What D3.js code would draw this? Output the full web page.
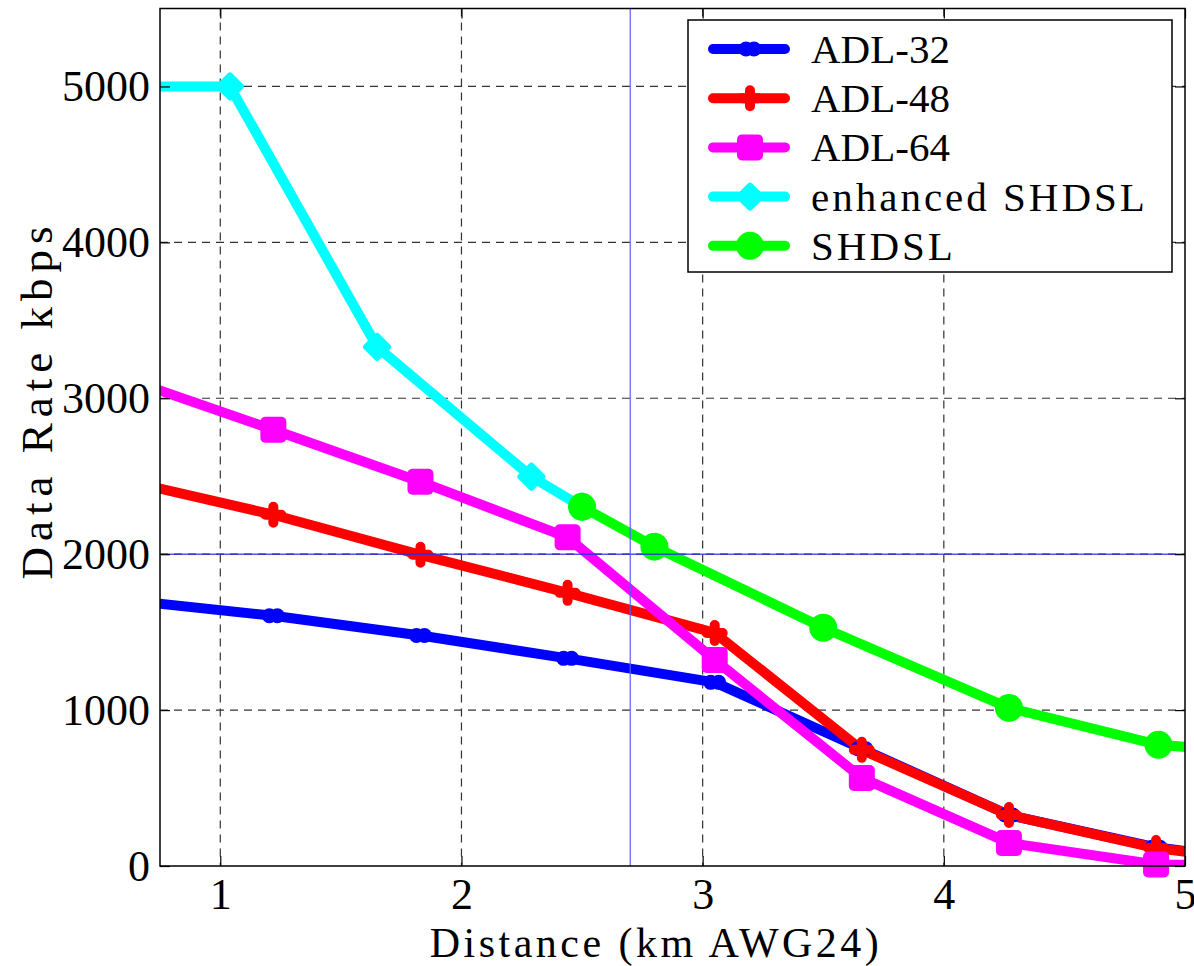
<!DOCTYPE html>
<html>
<head>
<meta charset="utf-8">
<script src="https://cdn.jsdelivr.net/npm/d3@7"></script>
<style>
  html, body { margin: 0; padding: 0; background: #fff; }
  svg { display: block; }
  text { font-family: "Liberation Serif", "Times New Roman", serif; fill: #000; }
</style>
</head>
<body>
<svg id="chart" width="1194" height="966"></svg>
<script>
// Loop distances in km (2 kft steps) and achievable rates in kbps
const distanceKm = [0.61, 1.22, 1.83, 2.44, 3.05, 3.66, 4.27, 4.88, 5.49];
const adl32 = [1705, 1605, 1478, 1332, 1178, 752, 327, 120, 0];
const adl48 = [2470, 2253, 1996, 1752, 1495, 745, 327, 115, 0];
const adl64 = [3125, 2798, 2465, 2108, 1322, 565, 148, 10, 0];

const eshdslKm = [0.43, 1.04, 1.65, 2.29, 2.50];
const eshdslRate = [5000, 5000, 3330, 2497, 2304];

const shdslKm = [2.50, 2.80, 3.50, 4.27, 4.89, 5.50];
const shdslRate = [2304, 2048, 1528, 1014, 777, 705];

const xTicks = [1, 2, 3, 4, 5];
const yTicks = [0, 1000, 2000, 3000, 4000, 5000];
const seriesNames = ["ADL-32", "ADL-48", "ADL-64", "enhanced SHDSL", "SHDSL"];

// Reference markers: 2 Mbps rate and 2.7 km reach
const refRate = 2000;
const refDistance = 2.7;

const series = [
  { name: seriesNames[0], xs: distanceKm, ys: adl32, color: "#0000ff", marker: "dot2" },
  { name: seriesNames[1], xs: distanceKm, ys: adl48, color: "#ff0000", marker: "plus" },
  { name: seriesNames[2], xs: distanceKm, ys: adl64, color: "#ff00ff", marker: "square" },
  { name: seriesNames[3], xs: eshdslKm, ys: eshdslRate, color: "#00ffff", marker: "diamond" },
  { name: seriesNames[4], xs: shdslKm, ys: shdslRate, color: "#00ff00", marker: "circle" }
];

const svg = d3.select("#chart");
const plotL = 160, plotR = 1185, plotT = 8.5, plotB = 866;

const x = d3.scaleLinear().domain([0.75, 5]).range([plotL, plotR]);
const y = d3.scaleLinear().domain([0, 5500]).range([plotB, plotT]);

svg.append("defs").append("clipPath").attr("id", "plotClip")
  .append("rect").attr("x", plotL).attr("y", plotT)
  .attr("width", plotR - plotL).attr("height", plotB - plotT);

// Dashed grid
const grid = svg.append("g");
grid.selectAll("line.gx").data(xTicks.filter(t => x(t) < plotR - 1)).join("line")
  .attr("x1", d => x(d)).attr("x2", d => x(d))
  .attr("y1", plotT).attr("y2", plotB)
  .attr("stroke", "#333").attr("stroke-width", 1.2)
  .attr("stroke-dasharray", "8,6");
grid.selectAll("line.gy").data(yTicks.filter(t => t > 0)).join("line")
  .attr("y1", d => y(d)).attr("y2", d => y(d))
  .attr("x1", plotL).attr("x2", plotR)
  .attr("stroke", "#333").attr("stroke-width", 1.2)
  .attr("stroke-dasharray", "8,6");

// Data lines
const plot = svg.append("g").attr("clip-path", "url(#plotClip)");
const line = d3.line().x(d => x(d[0])).y(d => y(d[1]));

function drawMarker(g, type, color) {
  if (type === "dot2") {
    g.append("circle").attr("cx", -4).attr("cy", 0).attr("r", 7.5).attr("fill", color);
    g.append("circle").attr("cx", 4).attr("cy", 0).attr("r", 7.5).attr("fill", color);
  } else if (type === "plus") {
    g.append("path").attr("d", "M0,-8L0,8M-8,0L8,0").attr("stroke", color)
      .attr("stroke-width", 10).attr("stroke-linecap", "round").attr("fill", "none");
  } else if (type === "square") {
    g.append("rect").attr("x", -13).attr("y", -13).attr("width", 26).attr("height", 26)
      .attr("rx", 5).attr("fill", color);
  } else if (type === "diamond") {
    g.append("path").attr("d", "M0,-11L11,0L0,11L-11,0Z").attr("fill", color)
      .attr("stroke", color).attr("stroke-width", 6).attr("stroke-linejoin", "round");
  } else if (type === "circle") {
    g.append("circle").attr("r", 14).attr("fill", color);
  }
}

series.forEach(s => {
  const pts = s.xs.map((v, i) => [v, s.ys[i]]);
  plot.append("path").datum(pts)
    .attr("d", line)
    .attr("fill", "none")
    .attr("stroke", s.color)
    .attr("stroke-width", 10)
    .attr("stroke-linejoin", "round")
    .attr("stroke-linecap", "round");
  const mg = svg.append("g");
  pts.filter(p => p[0] >= 0.75 && p[0] <= 5).forEach(p => {
    const g = mg.append("g").attr("transform", `translate(${x(p[0])},${y(p[1])})`);
    drawMarker(g, s.marker, s.color);
  });
});

// Reference lines
svg.append("line")
  .attr("x1", plotL).attr("x2", plotR).attr("y1", y(refRate)).attr("y2", y(refRate))
  .attr("stroke", "#2a2ae8").attr("stroke-width", 1.5).attr("opacity", 0.8);
svg.append("line")
  .attr("x1", x(refDistance)).attr("x2", x(refDistance)).attr("y1", plotT).attr("y2", plotB)
  .attr("stroke", "#5a5aff").attr("stroke-width", 1.5).attr("opacity", 0.8);

// Axes box with inward ticks
const axes = svg.append("g");
axes.append("rect").attr("x", plotL).attr("y", plotT)
  .attr("width", plotR - plotL).attr("height", plotB - plotT)
  .attr("fill", "none").attr("stroke", "#000").attr("stroke-width", 1.5);

const xAxisB = d3.axisBottom(x).tickValues(xTicks).tickSize(-10).tickPadding(12).tickFormat(d3.format("d"));
const xAxisT = d3.axisTop(x).tickValues(xTicks).tickSize(-10).tickFormat("");
const yAxisL = d3.axisLeft(y).tickValues(yTicks).tickSize(-10).tickPadding(10).tickFormat(d3.format("d"));
const yAxisR = d3.axisRight(y).tickValues(yTicks).tickSize(-10).tickFormat("");

function styleAxis(g) {
  g.select(".domain").remove();
  g.selectAll(".tick line").attr("stroke", "#000").attr("stroke-width", 1.2);
  g.selectAll(".tick text").attr("font-size", 44).attr("font-family", '"Liberation Serif", serif').attr("fill", "#000");
}

axes.append("g").attr("transform", `translate(0,${plotB})`).call(xAxisB).call(styleAxis);
axes.append("g").attr("transform", `translate(0,${plotT})`).call(xAxisT).call(styleAxis);
axes.append("g").attr("transform", `translate(${plotL},0)`).call(yAxisL).call(styleAxis);
axes.append("g").attr("transform", `translate(${plotR},0)`).call(yAxisR).call(styleAxis);

// Axis titles
svg.append("text")
  .attr("x", 656).attr("y", 957)
  .attr("text-anchor", "middle").attr("font-size", 42)
  .attr("letter-spacing", 3.5)
  .text("Distance (km AWG24)");
svg.append("text")
  .attr("transform", "translate(52,400) rotate(-90)")
  .attr("text-anchor", "middle").attr("font-size", 45)
  .attr("letter-spacing", 6)
  .text("Data Rate kbps");

// Legend
const lg = svg.append("g");
lg.append("rect").attr("x", 688).attr("y", 20).attr("width", 484).attr("height", 252)
  .attr("fill", "#fff").attr("stroke", "#000").attr("stroke-width", 1.5);
series.forEach((s, i) => {
  const cy = 49 + i * 49.2;
  lg.append("line").attr("x1", 713).attr("x2", 785).attr("y1", cy).attr("y2", cy)
    .attr("stroke", s.color).attr("stroke-width", 10).attr("stroke-linecap", "round");
  const g = lg.append("g").attr("transform", `translate(750,${cy})`);
  drawMarker(g, s.marker, s.color);
  lg.append("text").attr("x", 811).attr("y", cy + 14)
    .attr("font-size", 41)
    .attr("letter-spacing", s.name.includes("SHDSL") ? 3 : 0)
    .text(s.name);
});
</script>
</body>
</html>
